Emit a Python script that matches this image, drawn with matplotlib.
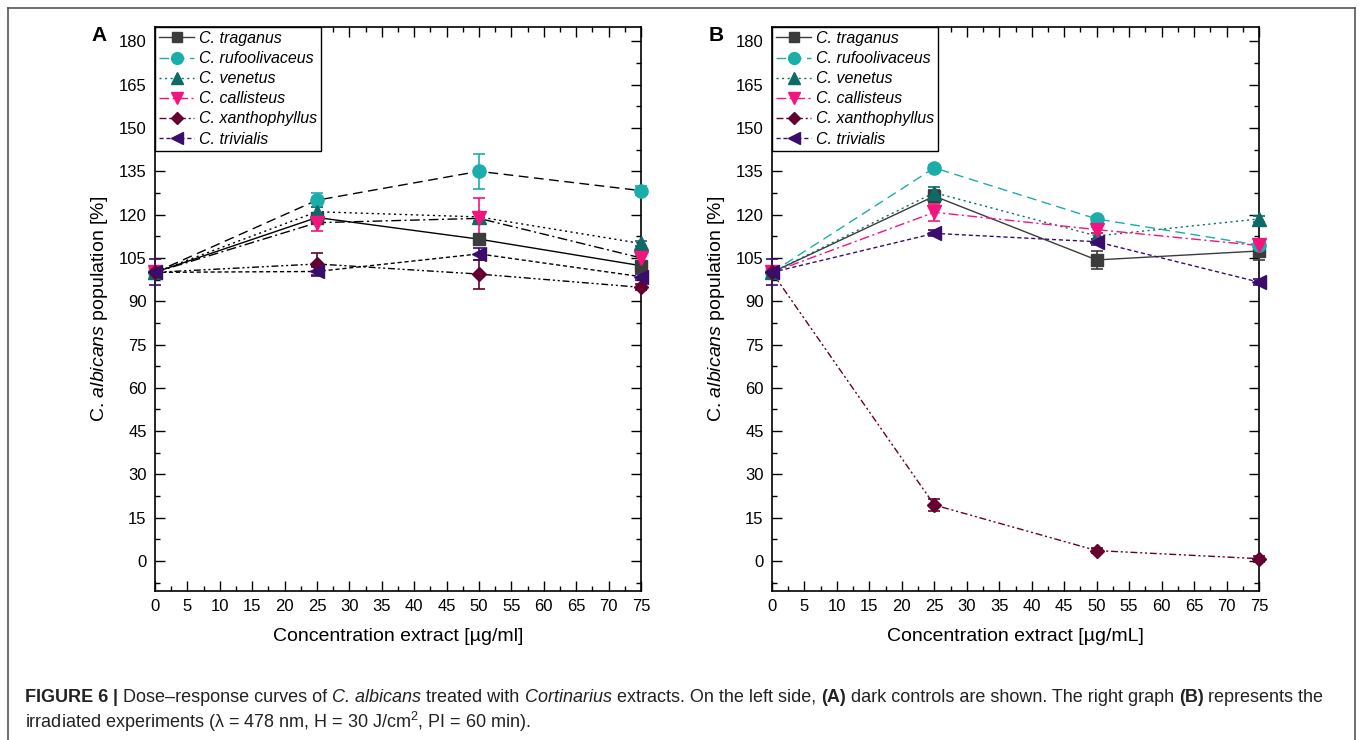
import matplotlib
matplotlib.use("Agg")
import matplotlib.pyplot as plt
from matplotlib.lines import Line2D
from matplotlib.ticker import MultipleLocator
import numpy as np

plt.rcParams['font.family'] = ['Liberation Sans', 'DejaVu Sans']
plt.rcParams['mathtext.fontset'] = 'custom'
plt.rcParams['mathtext.rm'] = 'Liberation Sans'
plt.rcParams['mathtext.it'] = 'Liberation Sans:italic'
plt.rcParams['mathtext.bf'] = 'Liberation Sans:bold'

conc = np.array([0, 25, 50, 75])
species = ["C. traganus", "C. rufoolivaceus", "C. venetus",
           "C. callisteus", "C. xanthophyllus", "C. trivialis"]

# panel A: dark controls
dark = {
    "C. traganus":      [100, 119.0, 111.5, 102.3],
    "C. rufoolivaceus": [100, 125.0, 135.0, 128.3],
    "C. venetus":       [100, 121.0, 119.2, 110.0],
    "C. callisteus":    [100, 117.2, 118.7, 105.0],
    "C. xanthophyllus": [100, 102.9, 99.4, 94.8],
    "C. trivialis":     [100, 100.3, 106.4, 98.5],
}
dark_err = {
    "C. traganus":      [1.0, 1.5, 1.5, 1.5],
    "C. rufoolivaceus": [1.0, 2.5, 6.0, 1.5],
    "C. venetus":       [1.0, 1.5, 1.5, 1.0],
    "C. callisteus":    [1.0, 3.0, 7.0, 1.0],
    "C. xanthophyllus": [1.0, 3.7, 5.0, 1.0],
    "C. trivialis":     [4.5, 1.5, 2.0, 1.0],
}

# panel B: irradiated
light = {
    "C. traganus":      [100, 126.4, 104.3, 107.4],
    "C. rufoolivaceus": [100, 136.2, 118.5, 109.4],
    "C. venetus":       [100, 127.6, 112.6, 118.5],
    "C. callisteus":    [100, 120.8, 114.8, 109.3],
    "C. xanthophyllus": [100, 19.4, 3.6, 0.8],
    "C. trivialis":     [100, 113.5, 110.6, 96.6],
}
light_err = {
    "C. traganus":      [1.0, 2.0, 3.0, 3.0],
    "C. rufoolivaceus": [1.0, 1.0, 1.0, 1.0],
    "C. venetus":       [1.0, 2.0, 1.0, 1.0],
    "C. callisteus":    [1.0, 3.0, 1.0, 1.0],
    "C. xanthophyllus": [1.0, 2.0, 1.0, 1.0],
    "C. trivialis":     [4.5, 1.0, 1.0, 1.0],
}

colors = ["#3c3c3c", "#1aaeaa", "#0e6a66", "#f2157e", "#66002e", "#3a0c6c"]
markers = ["s", "o", "^", "v", "D", "<"]
msizes = [8, 9.5, 9.5, 9.5, 7.5, 9.5]
styles = ["-", (0, (7, 4)), (0, (1.5, 2.5)), (0, (7, 2.5, 1.5, 2.5)),
          (0, (5, 2, 1.5, 2, 1.5, 2)), (0, (3, 2))]

fig = plt.figure(figsize=(13.6, 7.4), dpi=100)
axA = fig.add_axes([155/1360, 1-591/740, 486/1360, 564/740])
axB = fig.add_axes([772/1360, 1-591/740, 487/1360, 564/740])


def panel(ax, data, err, black_lines, xlabel, letter):
    for i, sp in enumerate(species):
        lc = "black" if black_lines else colors[i]
        ax.plot(conc, data[sp], linestyle=styles[i], color=lc, lw=1.0, zorder=2)
        ax.errorbar(conc, data[sp], yerr=err[sp], fmt=markers[i], color=colors[i],
                    ms=msizes[i], capsize=4, elinewidth=1.2, capthick=1.2,
                    zorder=3, clip_on=False)
    ax.set_xlim(0, 75)
    ax.set_ylim(-10.4, 185)
    ax.xaxis.set_major_locator(MultipleLocator(5))
    ax.xaxis.set_minor_locator(MultipleLocator(2.5))
    ax.yaxis.set_major_locator(MultipleLocator(15))
    ax.yaxis.set_minor_locator(MultipleLocator(7.5))
    ax.set_yticks(np.arange(0, 181, 15))
    ax.tick_params(which="both", direction="in", top=True, right=True,
                   labelsize=12, width=1.0)
    ax.tick_params(which="major", length=7, pad=6)
    ax.tick_params(which="minor", length=3.5)
    for s in ax.spines.values():
        s.set_linewidth(1.2)
    ax.set_xlabel(xlabel, fontsize=14, labelpad=10)
    ax.set_ylabel(r"C. $\mathit{albicans}$ population [%]", fontsize=14, labelpad=6)
    handles = [Line2D([0], [0], color=colors[i], linestyle=styles[i], lw=1.0,
                      marker=markers[i], ms=msizes[i] - 1, label=sp)
               for i, sp in enumerate(species)]
    leg = ax.legend(handles=handles, loc="upper left",
                    prop={"style": "italic", "size": 11.5}, frameon=True,
                    fancybox=False, edgecolor="black", framealpha=1,
                    borderpad=0.25, labelspacing=0.32, handlelength=2.2,
                    handletextpad=0.3, borderaxespad=0.0)
    leg.get_frame().set_linewidth(1.0)
    ax.text(-0.13, 0.985, letter, transform=ax.transAxes, fontsize=15,
            fontweight="bold", va="center", ha="left")


panel(axA, dark, dark_err, True, "Concentration extract [µg/ml]", "A")
panel(axB, light, light_err, False, "Concentration extract [µg/mL]", "B")

# outer frame
fig.add_artist(Line2D([8/1360, 8/1360], [0, 1-8/740], color="#555555", lw=1.2,
                      transform=fig.transFigure))
fig.add_artist(Line2D([8/1360, 1355/1360], [1-8/740, 1-8/740], color="#555555",
                      lw=1.2, transform=fig.transFigure))
fig.add_artist(Line2D([1355/1360, 1355/1360], [0, 1-8/740], color="#555555",
                      lw=1.2, transform=fig.transFigure))

# caption
line1 = [("FIGURE 6", "bold", "normal"), (" | ", "bold", "normal"),
         ("Dose\u2013response curves of ", "normal", "normal"),
         ("C. albicans", "normal", "italic"), (" treated with ", "normal", "normal"),
         ("Cortinarius", "normal", "italic"),
         (" extracts. On the left side, ", "normal", "normal"),
         ("(A)", "bold", "normal"), (" dark controls are shown. The right graph ", "normal", "normal"),
         ("(B)", "bold", "normal"), (" represents the", "normal", "normal")]
line2 = [("irradiated experiments (\u03bb = 478 nm, H = 30 J/cm$^2$, PI = 60 min).", "normal", "normal")]

fig.canvas.draw()
renderer = fig.canvas.get_renderer()


def write_runs(runs, x0, y0, size):
    x = x0
    for txt, weight, style in runs:
        t = fig.text(x / 1360, 1 - y0 / 740, txt, fontsize=size, fontweight=weight,
                     fontstyle=style, va="center", ha="left", color="#222222")
        bb = t.get_window_extent(renderer=renderer)
        x += bb.width


write_runs(line1, 25, 697, 13.0)
write_runs(line2, 25, 722, 13.0)

fig.savefig("out.png", dpi=100)
